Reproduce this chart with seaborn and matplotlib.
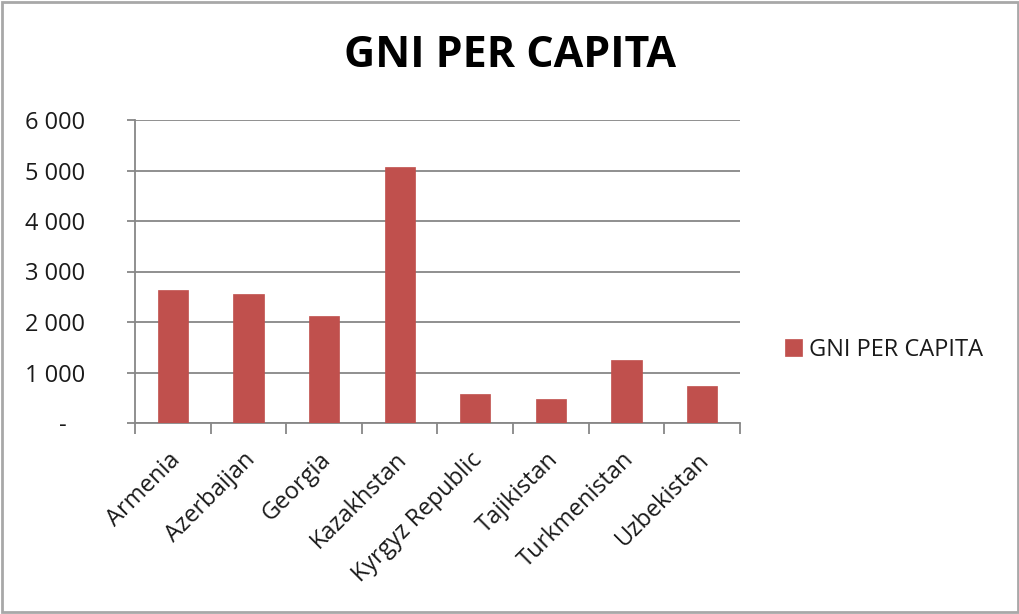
import matplotlib
matplotlib.use("Agg")
import matplotlib.pyplot as plt
import matplotlib.patches as mpatches
from matplotlib.ticker import FixedLocator, FuncFormatter
from matplotlib.transforms import ScaledTranslation
import seaborn as sns
import pandas as pd

countries = ["Armenia", "Azerbaijan", "Georgia", "Kazakhstan",
             "Kyrgyz Republic", "Tajikistan", "Turkmenistan", "Uzbekistan"]
gni_per_capita = [2640, 2550, 2120, 5060, 570, 470, 1250, 740]
y_ticks = [0, 1000, 2000, 3000, 4000, 5000, 6000]
series_name = "GNI PER CAPITA"
title = "GNI PER CAPITA"

sns.set_theme(style="white")
plt.rcParams["font.family"] = ["Open Sans", "DejaVu Sans"]

df = pd.DataFrame({"country": countries, "value": gni_per_capita})

fig = plt.figure(figsize=(10.2, 6.14), dpi=100)
ax = fig.add_axes([135 / 1020, 1 - 423 / 614, 605 / 1020, 303 / 614])

bar_color = "#C0504D"
grid_color = "#878787"
text_color = "#1a1a1a"

sns.barplot(data=df, x="country", y="value", color=bar_color, width=0.4,
            saturation=1, label=series_name, ax=ax, zorder=3,
            edgecolor=bar_color, linewidth=0.5)
if ax.get_legend() is not None:
    ax.get_legend().remove()

ax.set_ylim(0, 6000)
ax.set_xlim(-0.5, len(countries) - 0.5)
ax.yaxis.set_major_locator(FixedLocator(y_ticks))


def fmt(v, pos):
    if v == 0:
        return "-   "
    return f"{int(v):,}".replace(",", " ")


ax.yaxis.set_major_formatter(FuncFormatter(fmt))
ax.grid(axis="y", color=grid_color, linewidth=1.3, zorder=0)
ax.grid(axis="x", visible=False)

for side in ["top", "right"]:
    ax.spines[side].set_visible(False)
for side in ["left", "bottom"]:
    ax.spines[side].set_color(grid_color)
    ax.spines[side].set_linewidth(1.3)

ax.set_xlabel("")
ax.set_ylabel("")

# y ticks point outward to the left
ax.tick_params(axis="y", which="major", direction="out", length=6,
               width=1.3, color=grid_color, labelsize=17,
               labelcolor=text_color, pad=30, left=True)

# x: category labels at centres, tick marks at category boundaries
ax.set_xticks(range(len(countries)))
ax.set_xticklabels(countries, rotation=45, ha="right", va="top",
                   rotation_mode="anchor")
ax.set_xticks([i - 0.5 for i in range(len(countries) + 1)], minor=True)
ax.tick_params(axis="x", which="major", length=0, labelsize=17,
               labelcolor=text_color, pad=18)
ax.tick_params(axis="x", which="minor", direction="out", length=8,
               width=1.3, color=grid_color, bottom=True)

shift = ScaledTranslation(-5 / 100, 0, fig.dpi_scale_trans)
for lbl in ax.get_xticklabels():
    lbl.set_transform(lbl.get_transform() + shift)

fig.suptitle(title, x=0.5, y=1 - 34 / 614, va="top", fontsize=31,
             fontweight="bold", color="#000000")

handles, labels = ax.get_legend_handles_labels()
fig.legend(handles, labels, loc="center left",
           bbox_to_anchor=(764 / 1020, 1 - 350 / 614), frameon=False,
           fontsize=17, handlelength=0.7, handleheight=0.7,
           handletextpad=0.3, labelcolor=text_color)

fig.patches.append(mpatches.Rectangle((0.002, 0.003), 0.996, 0.994,
                                      transform=fig.transFigure,
                                      fill=False, edgecolor="#a8a8a8",
                                      linewidth=2))

fig.savefig("out.png", dpi=100, facecolor="white")
